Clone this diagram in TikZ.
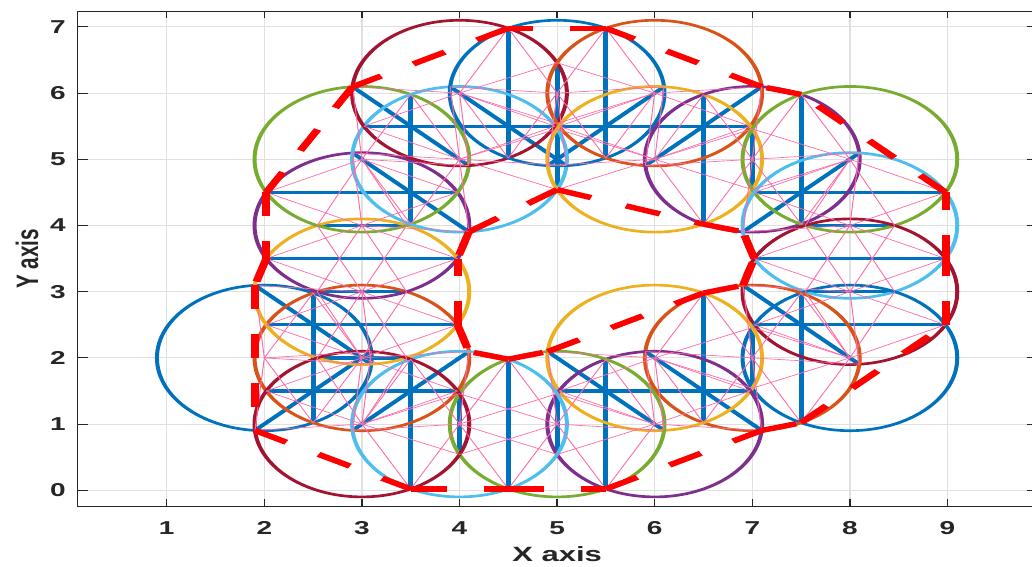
\documentclass[tikz,border=0pt]{standalone}
\usepackage{fontspec}
\setmainfont{Liberation Sans}
\definecolor{mB}{rgb}{0,0.447,0.741}
\definecolor{mO}{rgb}{0.85,0.325,0.098}
\definecolor{mY}{rgb}{0.929,0.694,0.125}
\definecolor{mP}{rgb}{0.494,0.184,0.556}
\definecolor{mG}{rgb}{0.466,0.674,0.188}
\definecolor{mL}{rgb}{0.301,0.745,0.933}
\definecolor{mR}{rgb}{0.635,0.078,0.184}
\colorlet{c0}{mB}\colorlet{c1}{mO}\colorlet{c2}{mY}\colorlet{c3}{mP}
\colorlet{c4}{mG}\colorlet{c5}{mL}\colorlet{c6}{mR}
\definecolor{pinkc}{rgb}{1,0.42,0.66}
\definecolor{axc}{rgb}{0.15,0.15,0.15}
\definecolor{gridc}{rgb}{0.88,0.88,0.88}
\definecolor{polyred}{rgb}{1,0,0}
\tikzset{
  gridline/.style={draw=gridc, line width=0.6pt},
  axisline/.style={draw=axc, line width=0.75pt},
  chord/.style={draw=mB, line width=2.5pt},
  circ/.style={line width=2pt},
  pinkl/.style={draw=pinkc, line width=0.5pt},
  reddash/.style={draw=polyred, line width=4pt, dash pattern=on 18pt off 18.5pt},
  ticklab/.style={inner sep=0pt, text=axc, font=\fontsize{14}{16}\selectfont\bfseries},
  axlab/.style={inner sep=0pt, text=axc, font=\fontsize{15.5}{18}\selectfont\bfseries},
}
\def\CX{{2,3,3,3,3,4,4,5,6,6,7,8,8,8,8,7,6,6,5,4,3}}
\def\CY{{2,2,3,4,5,5,6,6,6,5,5,5,4,3,2,2,2,1,1,1,1}}
\newcommand\addpt[2]{%
  \expandafter\ifx\csname PL#1\endcsname\empty
    \expandafter\xdef\csname PL#1\endcsname{#2}%
  \else
    \expandafter\xdef\csname PL#1\endcsname{\csname PL#1\endcsname,#2}%
  \fi}
\begin{document}
\begin{tikzpicture}
\useasboundingbox (0,0) rectangle (774pt,425.25pt);
\begin{scope}[transform canvas={xscale=1.5}]
\begin{scope}[shift={(34.55pt,57.525pt)}, x=48.8pt, y=49.65pt]
  % grid
  \foreach \g in {1,...,9} \draw[gridline] (\g,-0.2417) -- (\g,7.236);
  \foreach \g in {0,...,7} \draw[gridline] (0.0881,\g) -- (9.917,\g);
  % axes box and ticks
  \draw[axisline] (0.0881,-0.2417) rectangle (9.917,7.236);
  \foreach \g in {1,...,9} {
    \draw[axisline] (\g,-0.2417) -- ++(0,5.25pt);
    \draw[axisline] (\g,7.236) -- ++(0,-5.25pt);
    \node[ticklab] (xl\g) at (\g,-0.574) {\g};
  }
  \foreach \g in {0,...,7} {
    \draw[axisline] (0.0881,\g) -- ++(5pt,0);
    \draw[axisline] (9.917,\g) -- ++(-5pt,0);
    \node[ticklab, anchor=east] (yl\g) at (-0.032,\g) {\g};
  }
  \node[axlab] (xlab) at (5.0,-0.962) {X axis};
  \node[axlab, rotate=90] (ylab) at (-0.431,3.494) {Y axis};
  % centres and point lists
  \foreach \k in {0,...,20} {%
    \expandafter\gdef\csname PL\k\endcsname{}%
    \pgfmathsetmacro\xa{\CX[\k]}%
    \pgfmathsetmacro\ya{\CY[\k]}%
    \coordinate (C\k) at (\xa,\ya);
  }
  % intersection points and common chords
  \foreach \i in {0,...,19} {%
    \pgfmathtruncatemacro\ip{\i+1}%
    \foreach \j in {\ip,...,20} {%
      \pgfmathsetmacro\xa{\CX[\i]}%
      \pgfmathsetmacro\ya{\CY[\i]}%
      \pgfmathsetmacro\xb{\CX[\j]}%
      \pgfmathsetmacro\yb{\CY[\j]}%
      \pgfmathsetmacro\dd{veclen(\xb-\xa,\yb-\ya)}%
      \ifdim\dd pt<2.2pt
        \pgfmathsetmacro\hh{sqrt(1.21-\dd*\dd/4)}%
        \pgfmathsetmacro\ux{(\xb-\xa)/\dd}%
        \pgfmathsetmacro\uy{(\yb-\ya)/\dd}%
        \pgfmathsetmacro\mx{(\xa+\xb)/2}%
        \pgfmathsetmacro\my{(\ya+\yb)/2}%
        \coordinate (P\i-\j-a) at ({\mx-\hh*\uy},{\my+\hh*\ux});
        \coordinate (P\i-\j-b) at ({\mx+\hh*\uy},{\my-\hh*\ux});
        \draw[chord] (P\i-\j-a) -- (P\i-\j-b);
        \addpt{\i}{P\i-\j-a,P\i-\j-b}%
        \addpt{\j}{P\i-\j-a,P\i-\j-b}%
      \fi
    }%
  }
  % circles
  \foreach \k in {0,...,20} {%
    \pgfmathtruncatemacro\m{mod(\k,7)}%
    \draw[circ, c\m] (C\k) circle [radius=1.1];
  }
  % pink spokes from each centre to the points on its circle
  \foreach \k in {0,...,20} {%
    \edef\lst{\csname PL\k\endcsname}%
    \foreach \pa in \lst {\draw[pinkl] (C\k) -- (\pa);}%
  }
  % outer boundary
  \foreach \s/\t in {P0-20-b/P19-20-a, P19-20-a/P18-19-a, P18-19-a/P17-18-a,
      P17-18-a/P15-17-a, P15-17-a/P14-15-a, P14-15-a/P13-14-a, P13-14-a/P12-13-a,
      P12-13-a/P11-12-a, P11-12-a/P10-11-a, P10-11-a/P8-10-a, P8-10-a/P7-8-a,
      P7-8-a/P6-7-a, P6-7-a/P4-6-a, P4-6-a/P3-4-a, P3-4-a/P2-3-a, P2-3-a/P0-2-a,
      P0-2-a/P0-20-b}
    \draw[reddash] (\s) -- (\t);
  % inner boundary
  \foreach \s/\t in {P18-19-b/P16-18-b, P16-18-b/P15-16-b, P15-16-b/P13-15-b,
      P13-15-b/P12-13-b, P12-13-b/P10-12-b, P9-10-b/P10-12-b, P5-9-b/P9-10-b,
      P5-9-b/P3-5-b, P3-5-b/P2-3-b, P1-2-b/P2-3-b, P1-2-b/P1-19-a, P18-19-b/P1-19-a}
    \draw[reddash] (\s) -- (\t);
\end{scope}
\end{scope}
\end{tikzpicture}
\end{document}
